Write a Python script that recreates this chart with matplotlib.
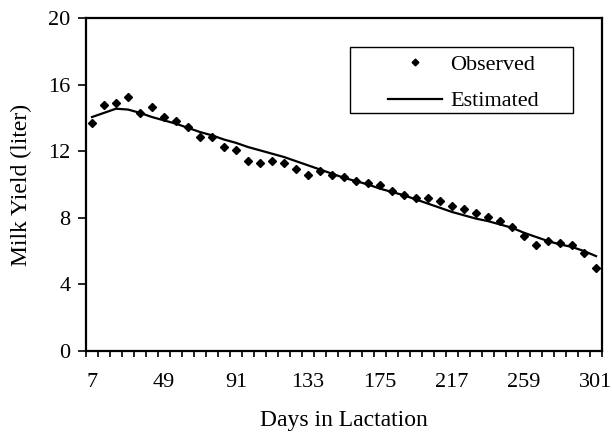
import matplotlib

matplotlib.use("Agg")
import matplotlib.pyplot as plt
import numpy as np
from matplotlib.patches import Rectangle
from matplotlib.ticker import FixedLocator, NullFormatter

plt.rcParams["font.family"] = ["Liberation Serif", "DejaVu Serif"]

# lactation day, sampled weekly
days = np.arange(7, 302, 7)

observed = [
    13.7, 14.8, 14.9, 15.25, 14.3, 14.65, 14.05, 13.8, 13.45, 12.85,
    12.85, 12.25, 12.1, 11.4, 11.3, 11.4, 11.3, 10.9, 10.55, 10.8,
    10.55, 10.45, 10.2, 10.1, 9.95, 9.6, 9.35, 9.2, 9.2, 9.0,
    8.7, 8.5, 8.3, 8.05, 7.8, 7.45, 6.9, 6.35, 6.6, 6.5,
    6.35, 5.9, 5.0,
]
estimated = [
    14.05, 14.3, 14.55, 14.5, 14.3, 14.05, 13.85, 13.65, 13.4, 13.15,
    12.95, 12.7, 12.5, 12.25, 12.05, 11.85, 11.65, 11.4, 11.15, 10.9,
    10.65, 10.4, 10.2, 10.0, 9.75, 9.55, 9.35, 9.1, 8.85, 8.6,
    8.35, 8.15, 7.95, 7.8, 7.6, 7.4, 7.1, 6.85, 6.6, 6.4,
    6.25, 6.0, 5.7,
]
x_labels = [7, 49, 91, 133, 175, 217, 259, 301]
y_ticks = [0, 4, 8, 12, 16, 20]

fig = plt.figure(figsize=(6.12, 4.38), dpi=100)
ax = fig.add_axes([0.1405, 0.1986, 0.8432, 0.7604])

ax.plot(days, estimated, color="black", linewidth=1.6, label="Estimated")
ax.plot(days, observed, linestyle="none", marker="D", markersize=4.3,
        color="black", label="Observed")

ax.set_xlim(days[0] - 3.5, days[-1] + 3.5)
ax.set_ylim(0, 20)

ax.xaxis.set_major_locator(FixedLocator(x_labels))
ax.xaxis.set_minor_locator(FixedLocator(np.arange(days[0] - 3.5, days[-1] + 4, 7)))
ax.xaxis.set_minor_formatter(NullFormatter())
ax.tick_params(axis="x", which="major", length=0, pad=16, labelsize=16)
ax.tick_params(axis="x", which="minor", length=4, width=1.2, direction="out")
ax.set_yticks(y_ticks)
ax.tick_params(axis="y", length=6, width=1.2, direction="out", labelsize=16, pad=5)

for spine in ax.spines.values():
    spine.set_linewidth(1.6)

ax.set_xlabel("Days in Lactation", fontsize=17, labelpad=13)
ax.set_ylabel("Milk Yield (liter)", fontsize=17, labelpad=12)

# legend frame drawn separately: wide side margins, tight top/bottom
ax.add_patch(Rectangle((0.5116, 0.7147), 0.4322, 0.1982, transform=ax.transAxes,
                       fill=False, edgecolor="black", linewidth=1.0, zorder=4))
handles, labels = ax.get_legend_handles_labels()
leg = ax.legend(
    handles[::-1], labels[::-1],
    loc="center left", bbox_to_anchor=(0.585, 0.805),
    fontsize=16, frameon=False,
    handlelength=2.45, handletextpad=0.36, borderpad=0, labelspacing=0.72,
    borderaxespad=0, numpoints=1, markerscale=0.8,
)

fig.savefig("out.png", dpi=100)
